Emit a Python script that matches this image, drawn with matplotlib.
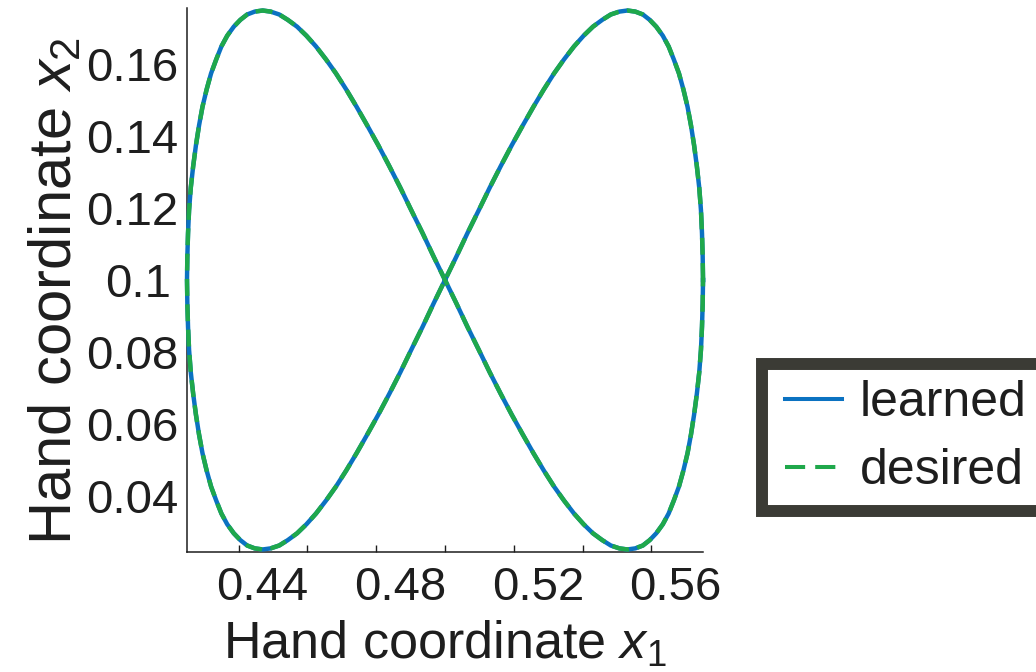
import matplotlib
matplotlib.use("Agg")
import matplotlib.pyplot as plt
from matplotlib.lines import Line2D
from matplotlib.legend_handler import HandlerLine2D
from matplotlib.transforms import ScaledTranslation

plt.rcParams['font.family'] = ['Liberation Sans', 'DejaVu Sans']
plt.rcParams['mathtext.fontset'] = 'custom'
plt.rcParams['mathtext.rm'] = 'Liberation Sans'
plt.rcParams['mathtext.it'] = 'Liberation Sans:italic'

# Hand trajectory (figure-eight): desired path and learned path
desired_x1 = [
    0.5750, 0.5749, 0.5747, 0.5744, 0.5739, 0.5732, 0.5724, 0.5715, 0.5705, 0.5693,
    0.5680, 0.5665, 0.5650, 0.5633, 0.5614, 0.5595, 0.5575, 0.5553, 0.5530, 0.5507,
    0.5482, 0.5457, 0.5430, 0.5403, 0.5375, 0.5346, 0.5317, 0.5287, 0.5257, 0.5226,
    0.5194, 0.5162, 0.5130, 0.5098, 0.5065, 0.5033, 0.5000,
    0.4967, 0.4935, 0.4902, 0.4870, 0.4838, 0.4806, 0.4774, 0.4743, 0.4713, 0.4683,
    0.4654, 0.4625, 0.4597, 0.4570, 0.4543, 0.4518, 0.4493, 0.4470, 0.4447, 0.4425,
    0.4405, 0.4386, 0.4367, 0.4350, 0.4335, 0.4320, 0.4307, 0.4295, 0.4285, 0.4276,
    0.4268, 0.4261, 0.4256, 0.4253, 0.4251, 0.4250,
    0.4251, 0.4253, 0.4256, 0.4261, 0.4268, 0.4276, 0.4285, 0.4295, 0.4307, 0.4320,
    0.4335, 0.4350, 0.4367, 0.4386, 0.4405, 0.4425, 0.4447, 0.4470, 0.4493, 0.4518,
    0.4543, 0.4570, 0.4597, 0.4625, 0.4654, 0.4683, 0.4713, 0.4743, 0.4774, 0.4806,
    0.4838, 0.4870, 0.4902, 0.4935, 0.4967, 0.5000,
    0.5033, 0.5065, 0.5098, 0.5130, 0.5162, 0.5194, 0.5226, 0.5257, 0.5287, 0.5317,
    0.5346, 0.5375, 0.5403, 0.5430, 0.5457, 0.5482, 0.5507, 0.5530, 0.5553, 0.5575,
    0.5595, 0.5614, 0.5633, 0.5650, 0.5665, 0.5680, 0.5693, 0.5705, 0.5715, 0.5724,
    0.5732, 0.5739, 0.5744, 0.5747, 0.5749, 0.5750]
desired_x2 = [
    0.1000, 0.1065, 0.1130, 0.1194, 0.1257, 0.1317, 0.1375, 0.1430, 0.1482, 0.1530,
    0.1575, 0.1614, 0.1650, 0.1680, 0.1705, 0.1724, 0.1739, 0.1747, 0.1750, 0.1747,
    0.1739, 0.1724, 0.1705, 0.1680, 0.1650, 0.1614, 0.1575, 0.1530, 0.1482, 0.1430,
    0.1375, 0.1317, 0.1257, 0.1194, 0.1130, 0.1065, 0.1000,
    0.0935, 0.0870, 0.0806, 0.0743, 0.0683, 0.0625, 0.0570, 0.0518, 0.0470, 0.0425,
    0.0386, 0.0350, 0.0320, 0.0295, 0.0276, 0.0261, 0.0253, 0.0250, 0.0253, 0.0261,
    0.0276, 0.0295, 0.0320, 0.0350, 0.0386, 0.0425, 0.0470, 0.0518, 0.0570, 0.0625,
    0.0683, 0.0743, 0.0806, 0.0870, 0.0935, 0.1000,
    0.1065, 0.1130, 0.1194, 0.1257, 0.1317, 0.1375, 0.1430, 0.1482, 0.1530, 0.1575,
    0.1614, 0.1650, 0.1680, 0.1705, 0.1724, 0.1739, 0.1747, 0.1750, 0.1747, 0.1739,
    0.1724, 0.1705, 0.1680, 0.1650, 0.1614, 0.1575, 0.1530, 0.1482, 0.1430, 0.1375,
    0.1317, 0.1257, 0.1194, 0.1130, 0.1065, 0.1000,
    0.0935, 0.0870, 0.0806, 0.0743, 0.0683, 0.0625, 0.0570, 0.0518, 0.0470, 0.0425,
    0.0386, 0.0350, 0.0320, 0.0295, 0.0276, 0.0261, 0.0253, 0.0250, 0.0253, 0.0261,
    0.0276, 0.0295, 0.0320, 0.0350, 0.0386, 0.0425, 0.0470, 0.0518, 0.0570, 0.0625,
    0.0683, 0.0743, 0.0806, 0.0870, 0.0935, 0.1000]
learned_x1 = [
    0.5750, 0.5749, 0.5747, 0.5744, 0.5739, 0.5732, 0.5724, 0.5715, 0.5705, 0.5693,
    0.5680, 0.5665, 0.5650, 0.5633, 0.5614, 0.5595, 0.5575, 0.5553, 0.5530, 0.5507,
    0.5482, 0.5457, 0.5430, 0.5403, 0.5375, 0.5346, 0.5317, 0.5287, 0.5257, 0.5226,
    0.5194, 0.5162, 0.5130, 0.5098, 0.5065, 0.5033, 0.5000,
    0.4967, 0.4935, 0.4902, 0.4870, 0.4838, 0.4806, 0.4774, 0.4743, 0.4713, 0.4683,
    0.4654, 0.4625, 0.4597, 0.4570, 0.4543, 0.4518, 0.4493, 0.4470, 0.4447, 0.4425,
    0.4405, 0.4386, 0.4367, 0.4350, 0.4335, 0.4320, 0.4307, 0.4295, 0.4285, 0.4276,
    0.4268, 0.4261, 0.4256, 0.4253, 0.4251, 0.4250,
    0.4251, 0.4253, 0.4256, 0.4261, 0.4268, 0.4276, 0.4285, 0.4295, 0.4307, 0.4320,
    0.4335, 0.4350, 0.4367, 0.4386, 0.4405, 0.4425, 0.4447, 0.4470, 0.4493, 0.4518,
    0.4543, 0.4570, 0.4597, 0.4625, 0.4654, 0.4683, 0.4713, 0.4743, 0.4774, 0.4806,
    0.4838, 0.4870, 0.4902, 0.4935, 0.4967, 0.5000,
    0.5033, 0.5065, 0.5098, 0.5130, 0.5162, 0.5194, 0.5226, 0.5257, 0.5287, 0.5317,
    0.5346, 0.5375, 0.5403, 0.5430, 0.5457, 0.5482, 0.5507, 0.5530, 0.5553, 0.5575,
    0.5595, 0.5614, 0.5633, 0.5650, 0.5665, 0.5680, 0.5693, 0.5705, 0.5715, 0.5724,
    0.5732, 0.5739, 0.5744, 0.5747, 0.5749, 0.5750]
learned_x2 = [
    0.1000, 0.1065, 0.1130, 0.1194, 0.1257, 0.1317, 0.1375, 0.1430, 0.1482, 0.1530,
    0.1575, 0.1614, 0.1650, 0.1680, 0.1705, 0.1724, 0.1739, 0.1747, 0.1750, 0.1747,
    0.1739, 0.1724, 0.1705, 0.1680, 0.1650, 0.1614, 0.1575, 0.1530, 0.1482, 0.1430,
    0.1375, 0.1317, 0.1257, 0.1194, 0.1130, 0.1065, 0.1000,
    0.0935, 0.0870, 0.0806, 0.0743, 0.0683, 0.0625, 0.0570, 0.0518, 0.0470, 0.0425,
    0.0386, 0.0350, 0.0320, 0.0295, 0.0276, 0.0261, 0.0253, 0.0250, 0.0253, 0.0261,
    0.0276, 0.0295, 0.0320, 0.0350, 0.0386, 0.0425, 0.0470, 0.0518, 0.0570, 0.0625,
    0.0683, 0.0743, 0.0806, 0.0870, 0.0935, 0.1000,
    0.1065, 0.1130, 0.1194, 0.1257, 0.1317, 0.1375, 0.1430, 0.1482, 0.1530, 0.1575,
    0.1614, 0.1650, 0.1680, 0.1705, 0.1724, 0.1739, 0.1747, 0.1750, 0.1747, 0.1739,
    0.1724, 0.1705, 0.1680, 0.1650, 0.1614, 0.1575, 0.1530, 0.1482, 0.1430, 0.1375,
    0.1317, 0.1257, 0.1194, 0.1130, 0.1065, 0.1000,
    0.0935, 0.0870, 0.0806, 0.0743, 0.0683, 0.0625, 0.0570, 0.0518, 0.0470, 0.0425,
    0.0386, 0.0350, 0.0320, 0.0295, 0.0276, 0.0261, 0.0253, 0.0250, 0.0253, 0.0261,
    0.0276, 0.0295, 0.0320, 0.0350, 0.0386, 0.0425, 0.0470, 0.0518, 0.0570, 0.0625,
    0.0683, 0.0743, 0.0806, 0.0870, 0.0935, 0.1000]

x_major = [0.44, 0.48, 0.52, 0.56]
x_major_labels = ['0.44', '0.48', '0.52', '0.56']
x_minor = [0.46, 0.50, 0.54]
y_ticks = [0.04, 0.06, 0.08, 0.10, 0.12, 0.14, 0.16]
y_tick_labels = ['0.04', '0.06', '0.08', '0.1', '0.12', '0.14', '0.16']
series_names = ['learned', 'desired']

BLUE = '#0b72c1'
GREEN = '#1fa84b'
INK = '#1e1e1e'

fig = plt.figure(figsize=(10.36, 6.72), dpi=100)
ax = fig.add_axes([0.1805, 0.1786, 0.4981, 0.8095])

ax.plot(learned_x1, learned_x2, color=BLUE, lw=3.2, solid_joinstyle='round',
        clip_on=False, zorder=3)
ax.plot(desired_x1, desired_x2, color=GREEN, lw=3.2, dashes=(3.8, 1.9),
        clip_on=False, zorder=4)

ax.set_xlim(0.425, 0.575)
ax.set_ylim(0.0243, 0.1757)

ax.spines[['top', 'right']].set_visible(False)
for side in ('left', 'bottom'):
    ax.spines[side].set_linewidth(1.1)
    ax.spines[side].set_color(INK)

ax.set_xticks(x_major, x_major_labels)
ax.set_xticks(x_minor, minor=True)
ax.tick_params(axis='x', which='both', direction='in', length=5, width=1, color=INK)
ax.tick_params(axis='x', which='major', labelsize=34, pad=10, labelcolor=INK)
ax.set_yticks(y_ticks, y_tick_labels)
ax.tick_params(axis='y', length=0, labelsize=34, pad=6, labelcolor=INK)

# the x tick labels sit a little to the right of their ticks
shift = ScaledTranslation(0.24, 0, fig.dpi_scale_trans)
for lab in ax.get_xticklabels():
    lab.set_transform(lab.get_transform() + shift)
nudge = ScaledTranslation(-0.08, 0, fig.dpi_scale_trans)
for lab in ax.get_yticklabels():
    if lab.get_text() == '0.1':
        lab.set_transform(lab.get_transform() + nudge)

ax.set_xlabel('Hand coordinate $x_1$', fontsize=37.5, color=INK)
ax.xaxis.set_label_coords(0.5, -0.125)
ax.set_ylabel('Hand coordinate $x_2$', fontsize=43, color=INK)
ax.yaxis.set_label_coords(-0.201, 0.479)

handles = [Line2D([], [], color=BLUE, lw=2.9),
           Line2D([], [], color=GREEN, lw=2.9, dashes=(5, 2.5))]
leg = fig.legend(handles, series_names, loc='upper left',
                 bbox_to_anchor=(762 / 1036, 1 - 364 / 672),
                 bbox_transform=fig.transFigure, borderaxespad=0,
                 fontsize=36, frameon=True, fancybox=False, borderpad=0.33,
                 labelspacing=0.43, handlelength=1.27, handletextpad=0.35,
                 handler_map={Line2D: HandlerLine2D(xpad=0.12)})
frame = leg.get_frame()
frame.set_linewidth(8.6)
frame.set_edgecolor('#3b3b35')
frame.set_facecolor('white')
frame.set_alpha(1)
for t in leg.get_texts():
    t.set_color(INK)

fig.savefig('out.png', dpi=100)
